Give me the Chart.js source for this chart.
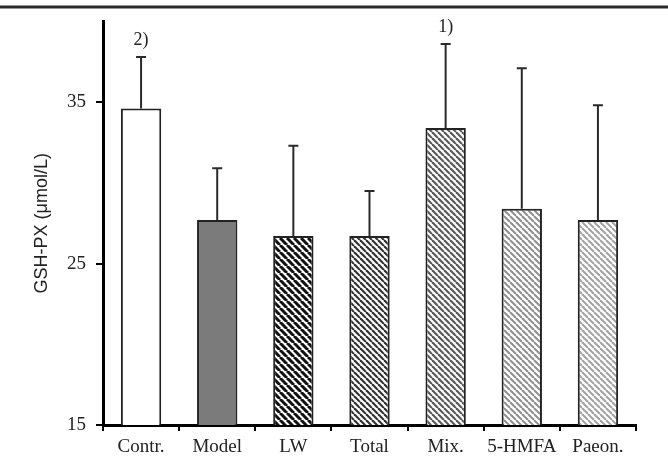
<!DOCTYPE html>
<html>
<head>
<meta charset="utf-8">
<script src="https://cdn.jsdelivr.net/npm/chart.js@4.4.1/dist/chart.umd.min.js"></script>
<style>
  html, body { margin: 0; padding: 0; background: #fff; }
  #wrap { width: 668px; height: 467px; position: relative; }
</style>
</head>
<body>
<div id="wrap"><canvas id="chart"></canvas></div>
<script>
// data
const categories = ['Contr.', 'Model', 'LW', 'Total', 'Mix.', '5-HMFA', 'Paeon.'];
const means = [34.6, 27.7, 26.7, 26.7, 33.4, 28.4, 27.7];
const errors = [3.2, 3.2, 5.6, 2.8, 5.2, 8.7, 7.1];
const notes = ['2)', '', '', '', '1)', '', ''];
const yTicks = [15, 25, 35];

// diagonal hatch pattern ("\" direction)
function makeHatch(size, width, color) {
    const c = document.createElement('canvas');
    c.width = size;
    c.height = size;
    const g = c.getContext('2d');
    g.fillStyle = '#fff';
    g.fillRect(0, 0, size, size);
    g.strokeStyle = color;
    g.lineWidth = width;
    for (let k = -1; k <= 1; k++) {
        g.beginPath();
        g.moveTo(k * size, 0);
        g.lineTo(k * size + size, size);
        g.stroke();
    }
    return document.getElementById('chart').getContext('2d').createPattern(c, 'repeat');
}

const fills = [
    '#ffffff',
    '#7b7b7b',
    makeHatch(7, 3, '#111'),
    makeHatch(6, 2.2, '#333'),
    makeHatch(6, 2.2, '#5a5a5a'),
    makeHatch(6, 2, '#8f8f8f'),
    makeHatch(6, 2, '#a3a3a3')
];

// top rule line
const topRule = {
    id: 'topRule',
    beforeDraw(chart) {
        const ctx = chart.ctx;
        ctx.save();
        ctx.strokeStyle = '#2a2a2a';
        ctx.lineWidth = 3;
        ctx.beginPath();
        ctx.moveTo(0, 7);
        ctx.lineTo(chart.width, 7);
        ctx.stroke();
        ctx.restore();
    }
};

// upper error bars + significance notes
const errorBars = {
    id: 'errorBars',
    afterDatasetsDraw(chart) {
        const ctx = chart.ctx;
        const x = chart.scales.x;
        const y = chart.scales.y;
        ctx.save();
        ctx.strokeStyle = '#2a2a2a';
        ctx.lineWidth = 2;
        means.forEach((m, i) => {
            const px = x.getPixelForValue(i);
            const y0 = y.getPixelForValue(m);
            const y1 = y.getPixelForValue(m + errors[i]);
            ctx.beginPath();
            ctx.moveTo(px, y0);
            ctx.lineTo(px, y1);
            ctx.moveTo(px - 5, y1);
            ctx.lineTo(px + 5, y1);
            ctx.stroke();
            if (notes[i]) {
                ctx.fillStyle = '#222';
                ctx.font = '18px "Liberation Serif"';
                ctx.textAlign = 'center';
                ctx.textBaseline = 'bottom';
                ctx.fillText(notes[i], px, y1 - 8);
            }
        });
        ctx.restore();
    }
};

new Chart(document.getElementById('chart'), {
    type: 'bar',
    data: {
        labels: categories,
        datasets: [{
            data: means,
            backgroundColor: fills,
            borderColor: '#222',
            borderWidth: 2,
            barPercentage: 0.53,
            categoryPercentage: 1
        }]
    },
    options: {
        responsive: true,
        maintainAspectRatio: false,
        animation: false,
        layout: { padding: { top: 15, right: 32, left: 0, bottom: 0 } },
        plugins: {
            legend: { display: false },
            tooltip: { enabled: false }
        },
        scales: {
            x: {
                afterFit: (s) => { s.height = 42; },
                border: { display: true, color: '#000', width: 3 },
                grid: { drawOnChartArea: false, drawTicks: true, tickLength: 6, color: '#000', lineWidth: 2 },
                ticks: { color: '#222', padding: 5, font: { family: 'Liberation Serif', size: 19 } }
            },
            y: {
                min: 15,
                max: 40,
                afterBuildTicks: (s) => { s.ticks = yTicks.map(v => ({ value: v })); },
                afterFit: (s) => { s.width = 103; },
                border: { display: true, color: '#000', width: 3 },
                grid: { drawOnChartArea: false, drawTicks: true, tickLength: 7, color: '#000', lineWidth: 2 },
                ticks: { color: '#222', padding: 10, font: { family: 'Liberation Serif', size: 19 } },
                title: {
                    display: true,
                    text: 'GSH-PX (μmol/L)',
                    color: '#222',
                    font: { family: 'Liberation Sans', size: 18 },
                    padding: { top: 31, bottom: 0 }
                }
            }
        }
    },
    plugins: [topRule, errorBars]
});
</script>
</body>
</html>
